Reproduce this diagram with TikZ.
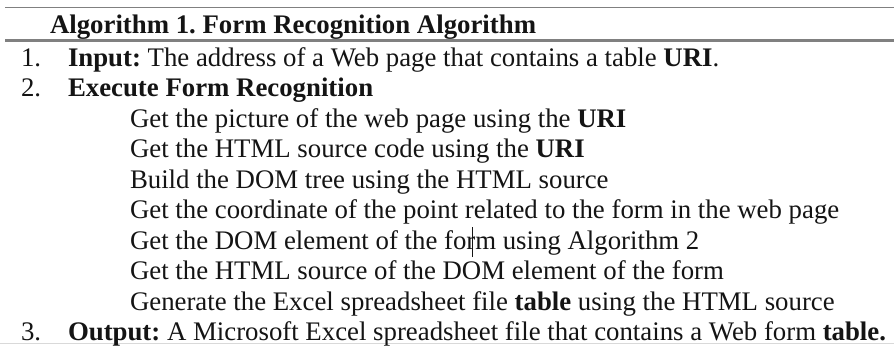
\documentclass[tikz,border=0pt]{standalone}
\usepackage{fontspec}
\setmainfont{Liberation Serif}
\frenchspacing
\begin{document}
\begin{tikzpicture}[x=1bp,y=-1bp,
  txt/.style={anchor=base west,inner sep=0pt,outer sep=0pt,
    font=\fontsize{26.8bp}{30bp}\selectfont,text=black!92},
  rulegray/.style={draw=black!50}]
\useasboundingbox (0,0) rectangle (894,345);
% table rules
\draw[rulegray,line width=1.8bp] (5,7.5) -- (894,7.5);
\draw[rulegray,line width=3bp] (5,40.5) -- (894,40.5);
\draw[draw=black!15,line width=1bp] (0,343.5) -- (894,343.5);
% heading
\node[txt] (title) at (50,33) {\textbf{Algorithm 1. Form Recognition Algorithm}};
% numbered steps
\node[txt] (n1) at (21,66) {1.};
\node[txt] (s1) at (68,66) {\textbf{Input:} The address of a Web page that contains a table \textbf{URI}.};
\node[txt] (n2) at (21,96.5) {2.};
\node[txt] (s2) at (68,96.5) {\textbf{Execute Form Recognition}};
% sub-steps of step 2
\node[txt] (a1) at (130,127) {Get the picture of the web page using the \textbf{URI}};
\node[txt] (a2) at (130,157.5) {Get the HTML source code using the \textbf{URI}};
\node[txt] (a3) at (130,188) {Build the DOM tree using the HTML source};
\node[txt] (a4) at (130,218.5) {Get the coordinate of the point related to the form in the web page};
\node[txt] (a5) at (130,249) {Get the DOM element of the for\rlap{\kern-0.12em\rule[-0.3em]{0.05em}{1.12em}}m using Algorithm 2};
\node[txt] (a6) at (130,279.5) {Get the HTML source of the DOM element of the form};
\node[txt] (a7) at (130,310) {Generate the Excel spreadsheet file \textbf{table} using the HTML source};
\node[txt] (n3) at (21,340) {3.};
\node[txt] (s3) at (68,340) {\textbf{Output:} A Microsoft Excel spreadsheet file that contains a Web form \textbf{table.}};
\end{tikzpicture}
\end{document}
